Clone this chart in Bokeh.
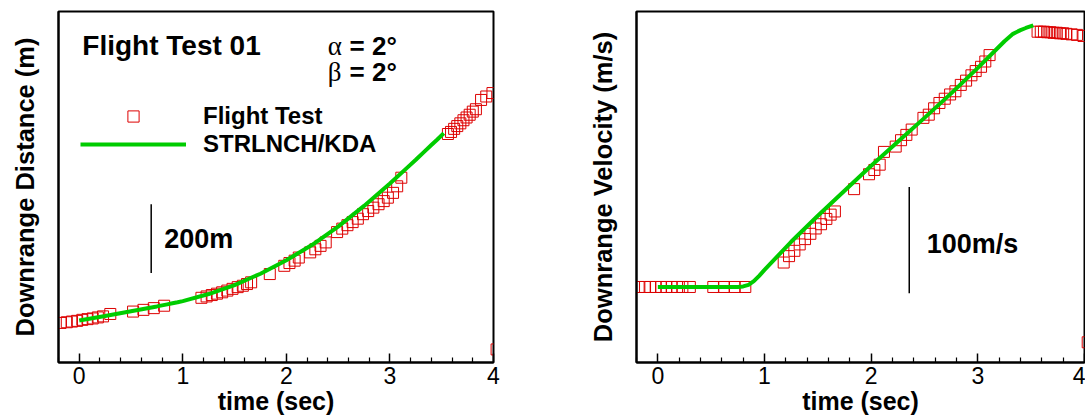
from bokeh.plotting import figure
from bokeh.layouts import row
from bokeh.models import FixedTicker, Label, Range1d, Legend, LegendItem
from bokeh.embed import file_html
from bokeh.resources import INLINE

# ---------------- data ----------------
# STRLNCH/KDA simulation
t_sim = [0.0, 0.25, 0.5, 0.75, 0.80, 0.85, 0.90, 0.95, 1.0, 1.25, 1.5, 1.75, 2.0,
         2.25, 2.5, 2.75, 3.0, 3.17, 3.25, 3.33, 3.4, 3.45, 3.52]
dist_sim = [122, 135, 149, 163, 166, 169, 172, 175, 178.5, 199, 225, 258, 297,
            342, 395, 455, 520, 567, 589, 612, 632, 646, 666]
vel_sim = [71, 71, 71, 71, 71.5, 73, 76.5, 81.5, 87, 113.5, 138, 161.5, 185,
           207.5, 230, 253, 277, 294, 302, 309, 312.5, 314.5, 317]

# Flight test samples
t_test = [-0.18, -0.12, -0.07, -0.02, 0.03, 0.08, 0.13, 0.18, 0.23, 0.30, 0.52, 0.62, 0.72, 0.82,
          1.18, 1.23, 1.28, 1.33, 1.38, 1.43, 1.48, 1.53, 1.58, 1.62, 1.66,
          1.84,
          1.98, 2.03, 2.08, 2.12,
          2.23, 2.28, 2.33, 2.38,
          2.49, 2.54, 2.59, 2.64, 2.69, 2.74, 2.79, 2.84, 2.89, 2.94, 2.98, 3.03, 3.07, 3.11,
          3.56, 3.59, 3.62, 3.65, 3.68, 3.71, 3.74, 3.77, 3.80, 3.83,
          3.88, 3.93, 3.99,
          4.03]
dist_test = [115, 117, 119, 121, 124, 126, 128, 131, 134, 141, 148, 153, 158, 165,
             188, 192, 196, 200, 204, 209, 214, 219, 223, 228, 233,
             257,
             281, 289, 296, 305,
             320, 329, 339, 349,
             379, 389, 399, 408, 418, 431, 440, 450, 460, 469, 479, 493, 512, 537,
             664, 670, 679, 687, 695, 704, 712, 720, 729, 736,
             763, 773, 783,
             38]
vel_test = [71, 71, 71, 71, 71, 71, 71, 71, 71, 71, 71, 71, 71, 71,
            94, 100, 105, 111, 116, 121, 126, 130, 135, 139, 142,
            163,
            177, 181, 186, 198,
            203, 209, 214, 219,
            230, 233, 239, 244, 248, 252, 255, 261, 265, 270, 274, 278, 283, 289,
            311, 311, 311, 310.5, 310.5, 310, 310, 309.5, 309.5, 309,
            308.5, 308, 307,
            19]

x_major = [0, 1, 2, 3, 4]
x_minor = [-0.2, 0.2, 0.4, 0.6, 0.8, 1.2, 1.4, 1.6, 1.8, 2.2, 2.4, 2.6, 2.8,
           3.2, 3.4, 3.6, 3.8]

FONT = "Liberation Sans"
RED = "#dd0000"
GREEN = "#00cc00"
H = 417


def make_fig(width, bl, br, ylabel, yrange):
    p = figure(width=width, height=H, x_range=Range1d(-0.2, 4.0), y_range=Range1d(*yrange),
               output_backend="svg", toolbar_location=None,
               min_border_left=bl, min_border_right=br, min_border_top=11, min_border_bottom=5)
    p.grid.visible = False
    p.outline_line_color = "black"
    p.outline_line_width = 2
    p.background_fill_color = "white"
    p.border_fill_color = "white"
    xa = p.xaxis[0]
    xa.ticker = FixedTicker(ticks=x_major, minor_ticks=x_minor)
    xa.major_tick_in = 9
    xa.major_tick_out = 0
    xa.minor_tick_in = 5
    xa.minor_tick_out = 0
    xa.axis_line_width = 2
    xa.major_tick_line_width = 1.5
    xa.minor_tick_line_width = 1.2
    xa.major_label_text_font = FONT
    xa.major_label_text_font_size = "23px"
    xa.major_label_text_color = "black"
    xa.major_label_standoff = 4
    xa.axis_label = "time (sec)"
    xa.axis_label_text_font = FONT
    xa.axis_label_text_font_style = "bold"
    xa.axis_label_text_font_size = "25px"
    xa.axis_label_text_color = "black"
    xa.axis_label_standoff = 0
    ya = p.yaxis[0]
    ya.ticker = FixedTicker(ticks=[])
    ya.major_tick_line_color = None
    ya.minor_tick_line_color = None
    ya.major_label_text_font_size = "0px"
    ya.axis_line_width = 2
    ya.axis_label = ylabel
    ya.axis_label_text_font = FONT
    ya.axis_label_text_font_style = "bold"
    ya.axis_label_text_font_size = "25.5px"
    ya.axis_label_text_color = "black"
    ya.axis_label_standoff = 20
    return p


# ---------------- left: distance ----------------
p1 = make_fig(560, 58, 67, "Downrange Distance (m)", (0, 1020))
sq1 = p1.scatter(t_test, dist_test, marker="square", size=11, line_color=RED,
                 fill_color=None, line_width=1)
ln1 = p1.line(t_sim, dist_sim, line_color=GREEN, line_width=4)
p1.segment(x0=[0.695], y0=[260], x1=[0.695], y1=[460], line_color="black", line_width=1.5)

legend = Legend(items=[LegendItem(label="Flight Test", renderers=[sq1]),
                       LegendItem(label="STRLNCH/KDA", renderers=[ln1])],
                location=(22, 204), orientation="vertical", glyph_width=106, glyph_height=28,
                label_height=28, label_standoff=17, spacing=0, padding=0, margin=0,
                border_line_color=None, background_fill_alpha=0,
                label_text_font=FONT, label_text_font_style="bold",
                label_text_font_size="24px", label_text_color="black")
p1.add_layout(legend)

p1.add_layout(Label(x=0.03, y=922, text="Flight Test 01", text_font=FONT, text_font_style="bold",
                    text_font_size="28px", text_baseline="alphabetic", text_color="black"))
p1.add_layout(Label(x=2.40, y=919, text="α", text_font="Liberation Serif",
                    text_font_size="27px", text_baseline="alphabetic", text_color="black"))
p1.add_layout(Label(x=2.61, y=919, text="= 2°", text_font=FONT, text_font_style="bold",
                    text_font_size="26px", text_baseline="alphabetic", text_color="black"))
p1.add_layout(Label(x=2.40, y=844, text="β", text_font="Liberation Serif",
                    text_font_size="27px", text_baseline="alphabetic", text_color="black"))
p1.add_layout(Label(x=2.61, y=844, text="= 2°", text_font=FONT, text_font_style="bold",
                    text_font_size="26px", text_baseline="alphabetic", text_color="black"))
p1.add_layout(Label(x=0.82, y=358, text="200m", text_font=FONT, text_font_style="bold",
                    text_font_size="27px", text_baseline="middle", text_color="black"))

# ---------------- right: velocity ----------------
p2 = make_fig(525, 76, 1, "Downrange Velocity (m/s)", (0, 330))
p2.scatter(t_test, vel_test, marker="square", size=11, line_color=RED,
           fill_color=None, line_width=1)
p2.line(t_sim, vel_sim, line_color=GREEN, line_width=4)
p2.segment(x0=[2.357], y0=[65], x1=[2.357], y1=[165], line_color="black", line_width=1.5)
p2.add_layout(Label(x=2.52, y=111, text="100m/s", text_font=FONT, text_font_style="bold",
                    text_font_size="27px", text_baseline="middle", text_color="black"))

layout = row(p1, p2, spacing=0)
open("out.html", "w").write(file_html(layout, INLINE))
